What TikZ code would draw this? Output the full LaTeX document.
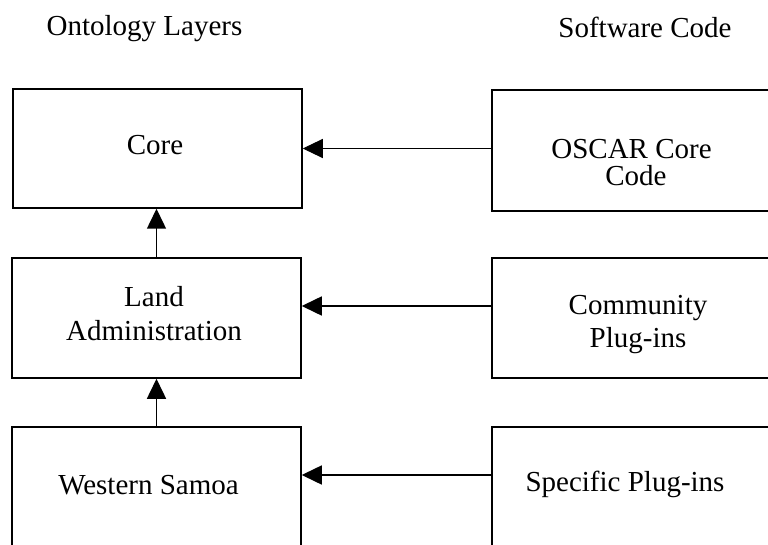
\documentclass[tikz,border=0pt]{standalone}
\usepackage{fontspec}
\setmainfont{Liberation Serif}
\usetikzlibrary{arrows.meta}
\begin{document}
\begin{tikzpicture}[x=1pt,y=-1pt,
  box/.style={draw=black,line width=1.5pt,rectangle,inner sep=0pt},
  lbl/.style={anchor=base,inner sep=0pt,font=\fontsize{29}{34}\selectfont},
  conn/.style={line width=1.5pt,-{Triangle[length=20pt,width=19pt]}},
  thin/.style={line width=1pt,-{Triangle[length=20pt,width=19pt]}}]
\useasboundingbox (0,0) rectangle (768,545);
\clip (0,0) rectangle (768,545);
\fill[white] (0,0) rectangle (768,545);
% titles
\node[lbl] (tl) at (144.5,36) {Ontology Layers};
\node[lbl] (tr) at (645,38) {Software Code};
% boxes
\node[box,minimum width=289pt,minimum height=119pt] (core) at (157.5,148.5) {};
\node[box,minimum width=289pt,minimum height=120pt] (land) at (156.5,318) {};
\node[box,minimum width=289pt,minimum height=130pt] (west) at (156.5,492) {};
\node[box,minimum width=298pt,minimum height=121pt] (oscar) at (641,150.5) {};
\node[box,minimum width=298pt,minimum height=120pt] (comm) at (641,318) {};
\node[box,minimum width=298pt,minimum height=130pt] (spec) at (641,492) {};
% texts
\node[lbl] (coreT) at (155,155) {Core};
\node[lbl] (oscarT1) at (631.5,159) {OSCAR Core};
\node[lbl] (oscarT2) at (636,186) {Code};
\node[lbl] (landT1) at (154,306) {Land};
\node[lbl] (landT2) at (154,340) {Administration};
\node[lbl] (commT1) at (638,314) {Community};
\node[lbl] (commT2) at (638,347) {Plug-ins};
\node[lbl] (westT) at (148.5,494) {Western Samoa};
\node[lbl] (specT) at (625,491) {Specific Plug-ins};
% connectors
\draw[thin] (oscar.west |- core.east) -- (core.east);
\draw[conn] ([yshift=12pt]comm.west) -- ([yshift=12pt]land.east);
\draw[conn] ([yshift=17pt]spec.west) -- ([yshift=17pt]west.east);
\draw[conn] (land.north) -- (land.north |- core.south);
\draw[conn] (west.north) -- (land.south);
\end{tikzpicture}
\end{document}
